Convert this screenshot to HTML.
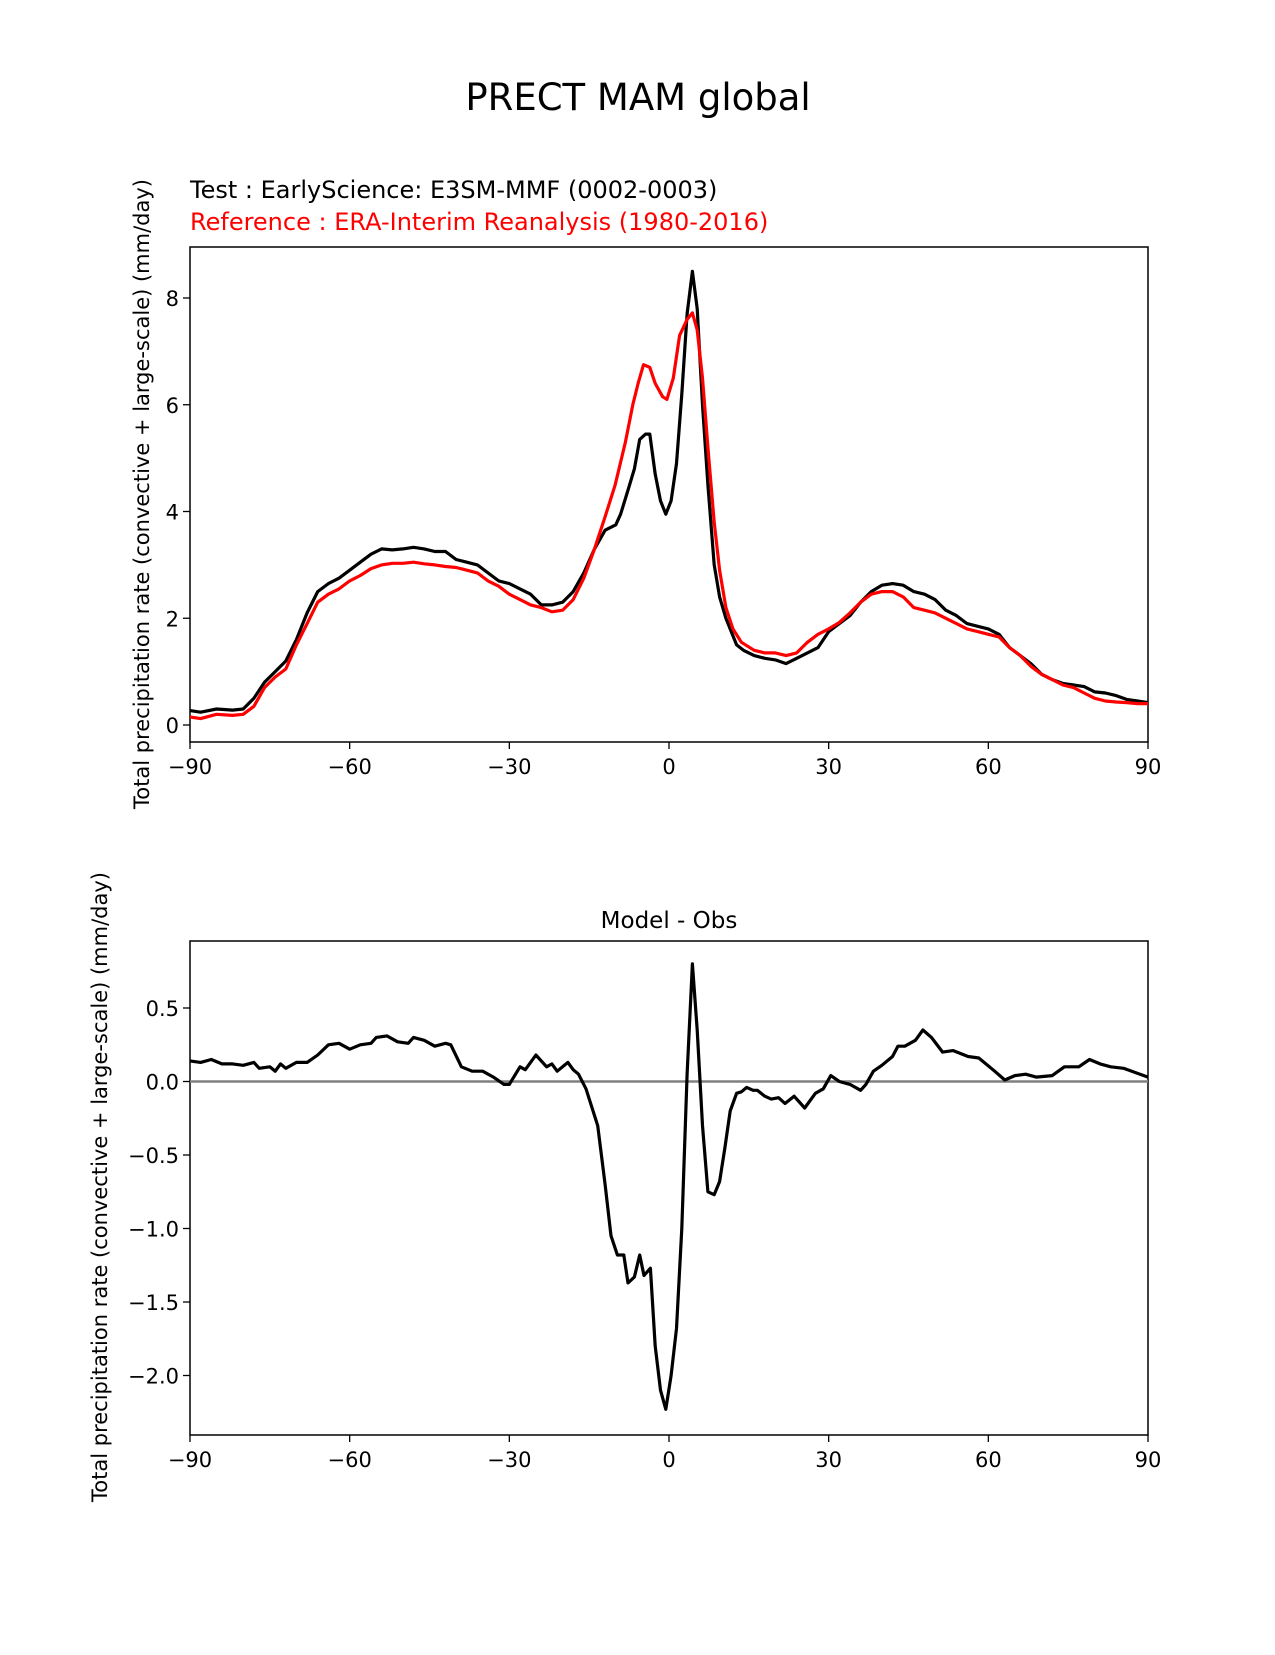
<!DOCTYPE html>
<html><head><meta charset="utf-8"><style>
body{margin:0;background:#fff}
svg text{font-family:"DejaVu Sans","Liberation Sans",sans-serif}
</style></head><body>
<svg id="fig" width="1275" height="1650" xmlns="http://www.w3.org/2000/svg">
<text x="638" y="110" font-size="37" text-anchor="middle">PRECT MAM global</text>
<text x="190" y="198" font-size="24">Test : EarlyScience: E3SM-MMF (0002-0003)</text>
<text x="190" y="230" font-size="24" fill="#ff0000">Reference : ERA-Interim Reanalysis (1980-2016)</text>
<text x="669" y="928" font-size="23" text-anchor="middle">Model - Obs</text>
<text transform="translate(149,494) rotate(-90)" font-size="21" text-anchor="middle">Total precipitation rate (convective + large-scale) (mm/day)</text>
<text transform="translate(107,1187) rotate(-90)" font-size="21" text-anchor="middle">Total precipitation rate (convective + large-scale) (mm/day)</text>
<g id="top"></g><g id="bot"></g>
</svg>
<script>
const latsTest=[-90,-88,-85,-82,-80,-78,-76,-74,-72,-70,-68,-66,-64,-62,-60,-58,-56,-54,-52,-50,-48,-46,-44,-42,-40,-38,-36,-34,-32,-30,-28,-26,-24,-22,-20,-18,-16,-14,-12,-10,-9.1,-7.7,-6.5,-5.5,-4.4,-3.6,-2.6,-1.6,-0.6,0.4,1.4,2.4,3.4,4.4,5.3,6.3,7.3,8.5,9.5,10.7,12.7,14,16,18,20,22,24,26,28,30,32,34,36,38,40,42,44,46,48,50,52,54,56,58,60,62,64,66,68,70,72,74,76,78,80,82,84,86,88,90];
const testVals=[0.27,0.24,0.3,0.28,0.3,0.5,0.8,1.0,1.2,1.6,2.1,2.5,2.65,2.75,2.9,3.05,3.2,3.3,3.28,3.3,3.33,3.3,3.25,3.25,3.1,3.05,3.0,2.85,2.7,2.65,2.55,2.45,2.25,2.25,2.3,2.5,2.85,3.3,3.65,3.75,3.95,4.4,4.8,5.35,5.45,5.45,4.7,4.2,3.95,4.2,4.9,6.2,7.7,8.5,7.8,6.0,4.5,3.0,2.4,2.0,1.5,1.4,1.3,1.25,1.22,1.15,1.25,1.35,1.45,1.75,1.9,2.05,2.3,2.5,2.62,2.65,2.62,2.5,2.45,2.35,2.15,2.05,1.9,1.85,1.8,1.7,1.45,1.3,1.15,0.95,0.85,0.78,0.75,0.72,0.62,0.6,0.55,0.48,0.45,0.42];
const latsRef=[-90,-88,-85,-82,-80,-78,-76,-74,-72,-70,-68,-66,-64,-62,-60,-58,-56,-54,-52,-50,-48,-46,-44,-42,-40,-38,-36,-34,-32,-30,-28,-26,-24,-22,-20,-18,-16,-14,-12,-10.1,-8.2,-6.8,-5.8,-4.8,-3.6,-2.6,-1.2,-0.4,0.8,2,3.4,4.4,5.3,6.3,7.3,8.5,9.5,10.7,12,13.6,16,18,20,22,24,26,28,30,32,34,36,38,40,42,44,46,48,50,52,54,56,58,60,62,64,66,68,70,72,74,76,78,80,82,84,86,88,90];
const refVals=[0.15,0.12,0.2,0.18,0.2,0.35,0.7,0.9,1.05,1.5,1.9,2.3,2.45,2.55,2.7,2.8,2.93,3.0,3.03,3.03,3.05,3.02,3.0,2.97,2.95,2.9,2.85,2.7,2.6,2.45,2.35,2.25,2.2,2.12,2.15,2.35,2.75,3.3,3.9,4.5,5.3,6.0,6.4,6.75,6.7,6.4,6.15,6.1,6.5,7.3,7.6,7.72,7.4,6.5,5.2,3.8,2.9,2.2,1.8,1.55,1.4,1.35,1.35,1.3,1.35,1.55,1.7,1.8,1.92,2.1,2.3,2.45,2.5,2.5,2.4,2.2,2.15,2.1,2.0,1.9,1.8,1.75,1.7,1.65,1.45,1.3,1.1,0.95,0.85,0.75,0.7,0.6,0.5,0.45,0.43,0.42,0.4,0.4];
const latsDiff=[-90,-88,-86,-84,-82,-80,-78,-77,-75,-74,-73,-72,-70,-68,-66,-64,-62,-60,-58,-56,-55,-53,-51,-49,-48,-46,-44,-42,-41,-39,-37,-35,-33,-31,-30,-28,-27,-25,-23,-22,-21,-19,-18,-17,-15.6,-13.4,-12,-10.9,-9.7,-8.5,-7.7,-6.5,-5.5,-4.7,-3.5,-2.6,-1.6,-0.6,0.4,1.4,2.4,3.4,4.4,5.3,6.3,7.3,8.5,9.5,10.5,11.5,12.7,13.6,14.6,15.8,16.6,18,19.2,20.6,21.8,23.5,25.5,27.5,29,30.4,32,34,36,37,38.4,40,42,43,44.3,46.3,47.7,49.3,51.4,53.4,56.2,58.2,61.2,63.1,65,67,69,72,74.3,77,79,81,83,85.4,90];
const diffVals=[0.14,0.13,0.15,0.12,0.12,0.11,0.13,0.09,0.1,0.07,0.12,0.09,0.13,0.13,0.18,0.25,0.26,0.22,0.25,0.26,0.3,0.31,0.27,0.26,0.3,0.28,0.24,0.26,0.25,0.1,0.07,0.07,0.03,-0.02,-0.02,0.1,0.08,0.18,0.1,0.12,0.07,0.13,0.08,0.05,-0.05,-0.3,-0.7,-1.05,-1.18,-1.18,-1.37,-1.33,-1.18,-1.32,-1.27,-1.8,-2.1,-2.23,-2.0,-1.68,-1.0,0.05,0.8,0.35,-0.3,-0.75,-0.77,-0.68,-0.45,-0.2,-0.08,-0.07,-0.04,-0.06,-0.06,-0.1,-0.12,-0.11,-0.15,-0.1,-0.18,-0.08,-0.05,0.04,0.0,-0.02,-0.06,-0.02,0.07,0.11,0.17,0.24,0.24,0.28,0.35,0.3,0.2,0.21,0.17,0.16,0.07,0.01,0.04,0.05,0.03,0.04,0.1,0.1,0.15,0.12,0.1,0.09,0.03];
const xTicks=[-90,-60,-30,0,30,60,90];
const topYTicks=[0,2,4,6,8];
const botYTicks=[-2.0,-1.5,-1.0,-0.5,0.0,0.5];
const NS="http://www.w3.org/2000/svg";
const L=190,R=1148;
const xs=v=>L+(v+90)/180*(R-L);
function mk(p,t,a){const e=document.createElementNS(NS,t);for(const k in a)e.setAttribute(k,a[k]);p.appendChild(e);return e;}
function fmt(v,d){let s=v.toFixed(d);return s.replace('-','\u2212');}
function axes(g,top,bot,ys,yt,dec,nm){
  const f=mk(g,'rect',{x:L,y:top,width:R-L,height:bot-top,fill:'none',stroke:'#000','stroke-width':1.5});
  
  xTicks.forEach(t=>{const x=xs(t);mk(g,'line',{x1:x,x2:x,y1:bot,y2:bot+7,stroke:'#000','stroke-width':1.3});
    const tx=mk(g,'text',{x:x,y:bot+32,'font-size':21,'text-anchor':'middle'});tx.textContent=fmt(t,0);
    });
  yt.forEach(t=>{const y=ys(t);mk(g,'line',{x1:L-7,x2:L,y1:y,y2:y,stroke:'#000','stroke-width':1.3});
    const tx=mk(g,'text',{x:L-11,y:y+8,'font-size':21,'text-anchor':'end'});tx.textContent=fmt(t,dec);
    });
}
function line(g,lats,vals,ys,col,nm){
  const d=lats.map((la,i)=>(i?'L':'M')+xs(la).toFixed(1)+','+ys(vals[i]).toFixed(1)).join('');
  const p=mk(g,'path',{d:d,fill:'none',stroke:col,'stroke-width':3.2,'stroke-linejoin':'round'});
  
}
const gt=document.getElementById('top');

const ysT=v=>725-v*(725-298)/8;
axes(gt,247,742,ysT,topYTicks,0,'top');
line(gt,latsTest,testVals,ysT,'#000','test-series-line');
line(gt,latsRef,refVals,ysT,'#ff0000','reference-series-line');
const gb=document.getElementById('bot');

const ysB=v=>1081.5-v*(1081.5-1008)/0.5;
axes(gb,941,1435,ysB,botYTicks,1,'bottom');
const z=mk(gb,'line',{x1:L,x2:R,y1:ysB(0),y2:ysB(0),stroke:'#808080','stroke-width':2.4});

line(gb,latsDiff,diffVals,ysB,'#000','difference-line');
</script>
</body></html>
